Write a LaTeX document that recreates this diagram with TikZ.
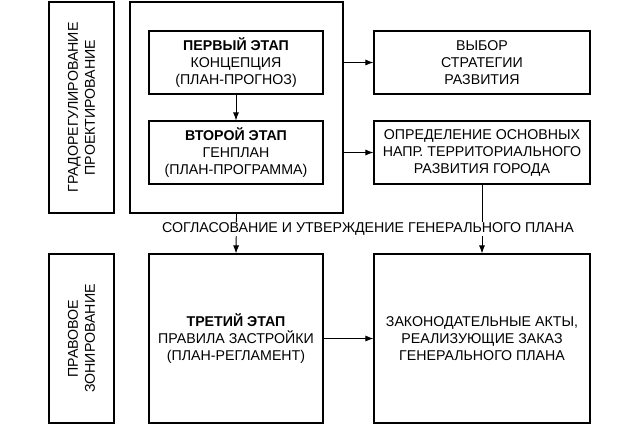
\documentclass[tikz,border=0pt]{standalone}
\usepackage{fontspec}
\setmainfont{Liberation Sans}
\usetikzlibrary{arrows.meta}
\begin{document}
\begin{tikzpicture}[x=1pt,y=-1pt,
  bx/.style={draw,line width=1.1pt},
  txt/.style={align=center,font=\fontsize{14.2}{17}\selectfont},
  arr/.style={-{Latex[length=8pt,width=6pt]},line width=0.9pt}]
\useasboundingbox (0,0) rectangle (640,426);
\draw[bx] (49,2) rectangle (114,213);
\node[txt,rotate=90] (l1) at (81.5,107.5) {ГРАДОРЕГУЛИРОВАНИЕ\\ПРОЕКТИРОВАНИЕ};
\draw[bx] (49,254) rectangle (114,423);
\node[txt,rotate=90] (l2) at (81.5,338.5) {ПРАВОВОЕ\\ЗОНИРОВАНИЕ};
\node[bx,minimum width=213pt,minimum height=211pt] (outer) at (236.5,107.5) {};
\node[bx,txt,minimum width=174pt,minimum height=63pt] (s1) at (236,62.5) {\textbf{ПЕРВЫЙ ЭТАП}\\КОНЦЕПЦИЯ\\(ПЛАН-ПРОГНОЗ)};
\node[bx,txt,minimum width=174pt,minimum height=63pt] (s2) at (236,152.5) {\textbf{ВТОРОЙ ЭТАП}\\ГЕНПЛАН\\(ПЛАН-ПРОГРАММА)};
\node[bx,txt,minimum width=216pt,minimum height=63pt] (r1) at (482,62.5) {ВЫБОР\\СТРАТЕГИИ\\РАЗВИТИЯ};
\node[bx,txt,minimum width=216pt,minimum height=63pt,inner sep=1pt] (r2) at (482,152.5) {ОПРЕДЕЛЕНИЕ ОСНОВНЫХ\\НАПР. ТЕРРИТОРИАЛЬНОГО\\РАЗВИТИЯ ГОРОДА};
\node[bx,txt,minimum width=174pt,minimum height=169pt] (s3) at (236,338.5) {\textbf{ТРЕТИЙ ЭТАП}\\ПРАВИЛА ЗАСТРОЙКИ\\(ПЛАН-РЕГЛАМЕНТ)};
\node[bx,txt,minimum width=216pt,minimum height=169pt] (r3) at (482,338.5) {ЗАКОНОДАТЕЛЬНЫЕ АКТЫ,\\РЕАЛИЗУЮЩИЕ ЗАКАЗ\\ГЕНЕРАЛЬНОГО ПЛАНА};
\draw[arr] (s1) -- (s2);
\draw[arr] (outer.east |- r1) -- (r1);
\draw[arr] (outer.east |- r2) -- (r2);
\draw[arr] (outer.south) -- (s3.north);
\draw[arr] (r2.south) -- (r3.north);
\node[txt,fill=white,inner sep=1pt] (lab) at (368,229) {СОГЛАСОВАНИЕ И УТВЕРЖДЕНИЕ ГЕНЕРАЛЬНОГО ПЛАНА};
\draw[arr] (s3) -- (r3);
\end{tikzpicture}
\end{document}
